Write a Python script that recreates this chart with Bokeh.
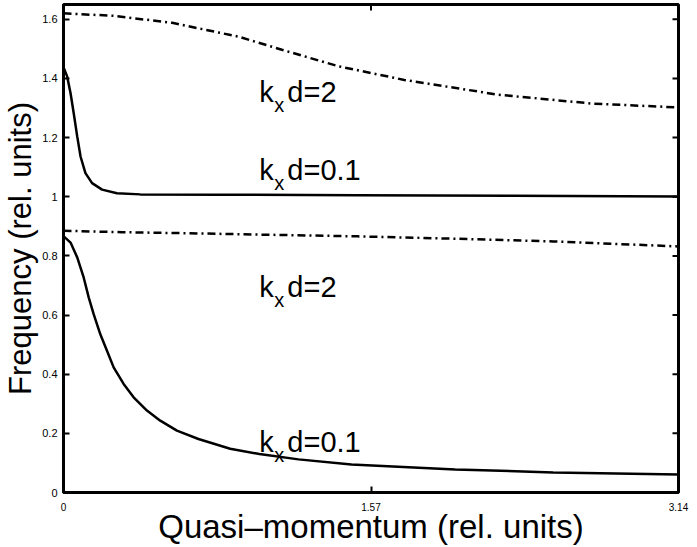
import math
from bokeh.plotting import figure
from bokeh.models import FixedTicker, Range1d
from bokeh.core.properties import value
from bokeh.embed import file_html
from bokeh.resources import INLINE

# ---- data ----
# band 2, kx d = 2 (dash-dot, top)
q_up_dd = [0.0, 0.25, 0.555, 0.895, 1.115, 1.405, 1.74, 2.22, 2.7, 3.14]
f_up_dd = [1.620, 1.612, 1.588, 1.541, 1.497, 1.441, 1.395, 1.345, 1.315, 1.302]

# band 2, kx d = 0.1 (solid, top)
q_up_s = [0.0, 0.019, 0.036, 0.052, 0.070, 0.087, 0.112, 0.146, 0.197, 0.273,
          0.392, 0.8, 1.5, 2.3, 3.14]
f_up_s = [1.438, 1.406, 1.350, 1.283, 1.204, 1.136, 1.080, 1.046, 1.024, 1.012,
          1.008, 1.007, 1.005, 1.003, 1.001]

# band 1, kx d = 2 (dash-dot, bottom)
q_lo_dd = [0.0, 0.3, 0.6, 1.0, 1.5, 2.0, 2.5, 3.14]
f_lo_dd = [0.885, 0.880, 0.877, 0.872, 0.866, 0.858, 0.849, 0.832]

# band 1, kx d = 0.1 (solid, bottom)
q_lo_s = [0.0, 0.036, 0.070, 0.103, 0.129, 0.154, 0.188, 0.222, 0.256, 0.307,
          0.358, 0.426, 0.494, 0.579, 0.689, 0.851, 1.0, 1.2, 1.47, 2.0,
          2.5, 3.14]
f_lo_s = [0.867, 0.845, 0.795, 0.727, 0.659, 0.603, 0.535, 0.479, 0.423, 0.367,
          0.322, 0.277, 0.243, 0.209, 0.181, 0.148, 0.130, 0.112, 0.095, 0.078,
          0.068, 0.061]

# curve annotations (k_x d = ...)
lab_q = [1.0, 1.0, 1.0, 1.0]
lab_f = [1.355, 1.091, 0.696, 0.172]
lab_main = ["k", "k", "k", "k"]
lab_sub = ["x", "x", "x", "x"]
lab_rest = ["d=2", "d=0.1", "d=2", "d=0.1"]

x_min, x_max = 0.0, 3.14
y_min, y_max = 0.0, 1.65
x_ticks = [0, 1.57, 3.14]
x_tick_labels = ["0", "1.57", "3.14"]
y_ticks = [0, 0.2, 0.4, 0.6, 0.8, 1.0, 1.2, 1.4, 1.6]
y_tick_labels = ["0", "0.2", "0.4", "0.6", "0.8", "1", "1.2", "1.4", "1.6"]
x_title = "Quasi\u2013momentum (rel. units)"
y_title = "Frequency (rel. units)"

FONT = "Liberation Sans"

p = figure(width=697, height=547,
           x_range=Range1d(x_min, x_max), y_range=Range1d(y_min, y_max),
           output_backend="svg", toolbar_location=None,
           min_border_left=60, min_border_right=19,
           min_border_top=4, min_border_bottom=54)
p.grid.visible = False
p.outline_line_color = "black"
p.outline_line_width = 3
p.background_fill_color = "white"
p.border_fill_color = "white"

def style_axis(ax, ticks, labels, size, standoff):
    ax.ticker = FixedTicker(ticks=ticks)
    ax.major_label_overrides = {t: l for t, l in zip(ticks, labels)}
    ax.major_tick_in = 6
    ax.major_tick_out = 0
    ax.major_tick_line_width = 2
    ax.major_tick_line_color = "black"
    ax.minor_tick_line_color = None
    ax.axis_line_width = 3
    ax.axis_line_color = "black"
    ax.major_label_text_font = FONT
    ax.major_label_text_color = "black"
    ax.major_label_text_font_size = size
    ax.major_label_standoff = standoff
    ax.axis_label_text_font = FONT
    ax.axis_label_text_font_style = "normal"
    ax.axis_label_text_color = "black"

style_axis(p.xaxis[0], x_ticks, x_tick_labels, "10px", 10)
style_axis(p.yaxis[0], y_ticks, y_tick_labels, "11px", 6)
p.xaxis[0].axis_label = x_title
p.xaxis[0].axis_label_text_font_size = "33px"
p.xaxis[0].axis_label_standoff = -6
p.yaxis[0].axis_label = y_title
p.yaxis[0].axis_label_text_font_size = "31px"
p.yaxis[0].axis_label_standoff = 1

# mirrored inward ticks on the top and right edges of the box
p.scatter(x_ticks, [y_max] * len(x_ticks), marker="dash", size=12,
          angle=math.pi / 2, line_color="black", line_width=2)
p.scatter([x_max] * len(y_ticks), y_ticks, marker="dash", size=12,
          line_color="black", line_width=2)

DD = "8 4 2 4"
p.line(q_up_dd, f_up_dd, line_color="black", line_width=2.5, line_dash=DD)
p.line(q_up_s, f_up_s, line_color="black", line_width=2.5)
p.line(q_lo_dd, f_lo_dd, line_color="black", line_width=2.5, line_dash=DD)
p.line(q_lo_s, f_lo_s, line_color="black", line_width=2.5)

p.text(lab_q, lab_f, text=lab_main, text_font=value(FONT), text_font_size="29px",
       text_baseline="alphabetic", text_align="left", text_color="black")
p.text(lab_q, lab_f, text=lab_sub, text_font=value(FONT), text_font_size="20px",
       text_baseline="alphabetic", text_align="left", text_color="black",
       x_offset=15, y_offset=13)
p.text(lab_q, lab_f, text=lab_rest, text_font=value(FONT), text_font_size="29px",
       text_baseline="alphabetic", text_align="left", text_color="black",
       x_offset=28)

open("out.html", "w").write(file_html(p, INLINE))
